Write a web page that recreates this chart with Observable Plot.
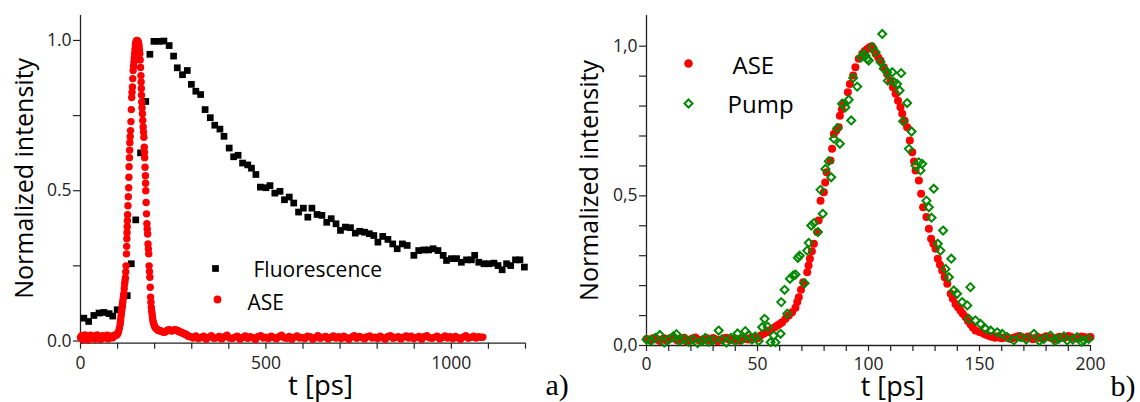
<!DOCTYPE html>
<html><head><meta charset="utf-8">
<script src="https://cdn.jsdelivr.net/npm/d3@7"></script>
<script src="https://cdn.jsdelivr.net/npm/@observablehq/plot@0.6"></script>
<style>
body{margin:0;background:#fff;}
#wrap{display:flex;width:1140px;height:402px;overflow:visible;}
#wrap svg{display:block;overflow:visible;}
</style></head><body><div id="wrap"></div>
<script>
// ---------- Panel a data ----------
const fluorescence = [[9,0.076],[22,0.065],[36,0.085],[50,0.093],[63,0.095],[77,0.091],[87,0.083],[99,0.104],[113,0.121],[126,0.151],[137,0.257],[149,0.403],[162,0.626],[176,0.797],[187,0.954],[198,0.997],[212,0.997],[225,0.998],[239,0.983],[251,0.948],[261,0.909],[275,0.886],[288,0.900],[299,0.854],[311,0.831],[324,0.820],[336,0.770],[350,0.743],[362,0.718],[376,0.705],[387,0.681],[401,0.642],[413,0.613],[425,0.618],[437,0.592],[451,0.586],[461,0.575],[473,0.554],[485,0.512],[500,0.510],[511,0.517],[524,0.492],[538,0.498],[550,0.470],[563,0.479],[575,0.459],[588,0.429],[601,0.442],[613,0.412],[624,0.442],[638,0.421],[651,0.418],[664,0.395],[676,0.407],[689,0.390],[701,0.368],[714,0.379],[728,0.377],[741,0.359],[753,0.365],[766,0.362],[779,0.357],[791,0.351],[802,0.329],[815,0.348],[829,0.338],[842,0.323],[854,0.307],[868,0.323],[881,0.318],[899,0.285],[912,0.301],[926,0.303],[939,0.303],[951,0.307],[964,0.301],[978,0.285],[987,0.268],[1000,0.274],[1014,0.274],[1027,0.262],[1041,0.270],[1054,0.270],[1063,0.285],[1074,0.262],[1088,0.257],[1101,0.257],[1115,0.259],[1126,0.251],[1137,0.237],[1149,0.257],[1160,0.251],[1173,0.270],[1185,0.270],[1197,0.246]];

const aseA = [[0,0.012],[3,0.018],[6,0.004],[9,0.015],[12,0.020],[15,0.011],[18,0.016],[21,0.003],[24,0.014],[27,0.019],[30,0.010],[33,0.017],[36,0.012],[39,0.006],[42,0.015],[45,0.020],[48,0.011],[51,0.016],[54,0.005],[57,0.013],[60,0.018],[63,0.010],[66,0.015],[69,0.012],[72,0.019],[75,0.007],[78,0.014],[81,0.013],[84,0.017],[87,0.011],[90,0.016],[93,0.020],[96,0.018],[99,0.022],
[101,0.026],[103,0.033],[105,0.043],[107,0.056],[108,0.068],[109,0.080],[110,0.090],[111,0.100],[112,0.110],[113,0.120],[114,0.130],[115,0.140],[116,0.150],[117,0.158],[118,0.175],[119,0.190],[120,0.200],[121,0.210],[122,0.230],[123,0.250],[124,0.290],[124.5,0.315],[125,0.340],[125.5,0.360],[126,0.380],[126.5,0.400],[127,0.420],[128,0.450],[129,0.480],[130,0.510],[130.5,0.545],[131,0.580],[132,0.610],[132.5,0.635],[133,0.660],[134,0.680],[135,0.700],[136,0.730],[137,0.770],[138,0.810],[139,0.828],[140,0.845],[141,0.873],[142,0.900],[143,0.914],[144,0.928],[145,0.942],[146,0.956],[147,0.970],[148,0.983],[149,0.990],[150,0.995],[151,0.998],[152,1.000],[153,0.999],[154,0.998],[155,0.996],[156,0.993],[157,0.987],[158,0.980],[159,0.968],[160,0.956],[161,0.935],[162,0.910],[163,0.883],[163.5,0.862],[164,0.840],[164.5,0.818],[165,0.795],[166,0.775],[167,0.756],[168,0.734],[169,0.712],[170,0.695],[171,0.678],[172,0.645],[172.5,0.628],[173,0.610],[174,0.578],[175,0.550],[175.5,0.525],[176,0.500],[177,0.461],[178,0.423],[179,0.390],[180,0.373],[181,0.356],[182,0.323],[183,0.306],[184,0.290],[185,0.250],[186,0.231],[187,0.212],[188,0.179],[189,0.146],[190,0.129],[191,0.112],[192,0.100],[193,0.090],[194,0.080],[195,0.070],[196.5,0.062],[198,0.055],[199.5,0.050],[201,0.046],[203,0.043],[205,0.040],[207,0.038],[209,0.036],[211,0.035],[213,0.035],[215,0.034],[217,0.033],[219,0.032],[221,0.031],[223,0.030],[225,0.030],[227,0.030],[229,0.031],[231,0.033],[233,0.034],[235,0.036],[237,0.037],[239,0.037],[241,0.036],[243,0.035],[245,0.034],[247,0.034],[249,0.035],[251,0.036],[253,0.037],[255,0.037],[257,0.036],[259,0.036],[261,0.035],[263,0.034],[265,0.032],[267,0.031],[269,0.030],[271,0.029],[273,0.028],[275,0.027],[277,0.026],[279,0.025],[281,0.024],[283,0.022],[285,0.021],[287,0.020],[289,0.018],[291,0.016],[293,0.015],
[297,0.014],[304,0.010],[311,0.017],[318,0.008],[325,0.012],[332,0.016],[339,0.006],[346,0.013],[353,0.018],[360,0.009],[367,0.011],[374,0.015],[381,0.007],[388,0.014],[395,0.019],[402,0.010],[409,0.008],[416,0.013],[423,0.016],[430,0.006],[437,0.012],[444,0.017],[451,0.009],[458,0.014],[465,0.011],[472,0.005],[479,0.015],[486,0.018],[493,0.010],[500,0.013],[507,0.008],[514,0.016],[521,0.012],[528,0.007],[535,0.014],[542,0.019],[549,0.011],[556,0.009],[563,0.015],[570,0.006],[577,0.013],[584,0.017],[591,0.010],[598,0.012],[605,0.008],[612,0.016],[619,0.014],[626,0.006],[633,0.011],[640,0.018],[647,0.009],[654,0.013],[661,0.015],[668,0.007],[675,0.012],[682,0.017],[689,0.010],[696,0.014],[703,0.008],[710,0.016],[717,0.011],[724,0.006],[731,0.013],[738,0.018],[745,0.009],[752,0.015],[759,0.012],[766,0.007],[773,0.014],[780,0.017],[787,0.010],[794,0.013],[801,0.008],[808,0.016],[815,0.011],[822,0.006],[829,0.015],[836,0.018],[843,0.009],[850,0.012],[857,0.014],[864,0.007],[871,0.013],[878,0.017],[885,0.010],[892,0.016],[899,0.008],[906,0.012],[913,0.015],[920,0.006],[927,0.014],[934,0.018],[941,0.011],[948,0.009],[955,0.013],[962,0.016],[969,0.007],[976,0.012],[983,0.017],[990,0.010],[997,0.014],[1004,0.008],[1011,0.015],[1018,0.011],[1025,0.006],[1032,0.013],[1039,0.018],[1046,0.009],[1053,0.012],[1060,0.016],[1067,0.010],[1074,0.014],[1081,0.012],[1085,0.013]];

const aXTicks = [0,100,200,300,400,500,600,700,800,900,1000,1100,1200];
const aXLabels = [0,500,1000];
const aYTicks = [0,0.25,0.5,0.75,1.0];
const aYLabels = [0,0.5,1.0];

// ---------- Panel b data ----------
const aseB = [[0,0.022],[1,0.02],[2,0.018],[3,0.024],[4,0.026],[5,0.019],[6,0.015],[7,0.021],[8,0.024],[9,0.017],[10,0.02],[11,0.025],[12,0.028],[13,0.022],[14,0.017],[15,0.02],[16,0.023],[17,0.026],[18,0.013],[19,0.018],[20,0.021],[21,0.024],[22,0.027],[23,0.02],[24,0.016],[25,0.019],[26,0.022],[27,0.025],[28,0.019],[29,0.016],[30,0.025],[31,0.021],[32,0.014],[33,0.018],[34,0.021],[35,0.024],[36,0.026],[37,0.02],[38,0.018],[39,0.022],[40,0.023],[41,0.019],[42,0.016],[43,0.021],[44,0.025],[45,0.022],[46,0.02],[47,0.026],[48,0.027],[49,0.024],[50,0.024],
[51.4,0.033],[52.8,0.039],[54.4,0.044],[55.5,0.050],[56.6,0.056],[57.8,0.061],[58.9,0.067],[60,0.072],[61.1,0.078],[62.6,0.089],[64.1,0.100],[65.6,0.111],[67.1,0.126],[67.9,0.145],[68.6,0.161],[69.6,0.186],[70.6,0.211],[72.4,0.245],[73,0.267],[73.6,0.290],[74.5,0.315],[75.4,0.340],[76.9,0.379],[77.5,0.418],[78.4,0.484],[79.9,0.512],[80.5,0.545],[81.1,0.579],[82.9,0.618],[83.6,0.657],[84.4,0.707],[85.5,0.718],[86.6,0.729],[87.1,0.768],[88,0.789],[88.9,0.810],[90.7,0.846],[91.6,0.874],[93.1,0.902],[94.1,0.930],[95.6,0.958],[97.2,0.975],[98.3,0.984],[99.4,0.991],[100.6,0.997],[101.5,1.000],[102.4,0.988],[103.2,0.975],[104.3,0.963],[105.4,0.952],[106.9,0.930],[108.4,0.907],[109.9,0.885],[111,0.863],[112.2,0.841],[113.3,0.818],[114.4,0.796],[115.2,0.774],[116.3,0.751],[117.4,0.729],[118.6,0.685],[119.7,0.646],[120.5,0.615],[121.2,0.585],[122.7,0.551],[123.7,0.507],[124.6,0.462],[126.1,0.429],[127.2,0.390],[128.2,0.357],[129.2,0.340],[130.2,0.323],[131.2,0.290],[132.2,0.270],[133.2,0.251],[134.3,0.228],[135.5,0.206],[137,0.173],[138,0.156],[139.2,0.139],[140.3,0.128],[141.4,0.117],[142.5,0.106],[143.7,0.095],[144.8,0.082],[146,0.070],[147,0.060],[148.2,0.050],[150,0.045],[151.9,0.039],
[153,0.036],[154,0.033],[155,0.030],[156,0.028],[157,0.026],[158,0.031],[159,0.027],[160,0.024],[161,0.026],[162,0.029],[163,0.025],[164,0.022],[165,0.025],[166,0.027],[167,0.03],[168,0.032],[169,0.028],[170,0.025],[171,0.027],[172,0.03],[173,0.025],[174,0.021],[175,0.024],[176,0.028],[177,0.026],[178,0.024],[179,0.027],[180,0.031],[181,0.028],[182,0.026],[183,0.024],[184,0.022],[185,0.026],[186,0.029],[187,0.027],[188,0.025],[189,0.028],[190,0.032],[191,0.029],[192,0.027],[193,0.025],[194,0.023],[195,0.027],[196,0.03],[197,0.028],[198,0.026],[199,0.027],[200,0.028]];

const pump = [[0,0.02],[2,0.015],[4,0.025],[6,0.035],[8,0.01],[10,0.02],[12,0.03],[13.5,0.038],[15,0.015],[17,0.022],[19,0.012],[21,0.02],[23,0.008],[25,0.015],[26.5,0.025],[28,0.012],[30,0.018],[32.5,0.05],[34,0.02],[36,0.01],[38,0.025],[40,0.015],[41,0.04],[43,0.02],[44.5,0.048],[46,0.035],[47.5,0.02],[49,0.03],[50.5,0.015],
[52.1,0.061],[53.2,0.089],[54.6,0.063],[55.9,0.011],[57.3,0.033],[58.1,0.011],[60.4,0.039],[60.7,0.145],[62.2,0.186],[63.4,0.106],[64.6,0.223],[66.1,0.234],[67.1,0.237],[68.2,0.293],[69,0.30],[71.2,0.208],[72.4,0.317],[73.1,0.343],[74.2,0.401],[75.4,0.409],[77.2,0.379],[78.4,0.52],[79.4,0.44],[80.6,0.59],[82.1,0.616],[83.2,0.562],[84.4,0.691],[85.9,0.726],[87.1,0.674],[88.1,0.808],[89.6,0.796],[91.1,0.821],[92.2,0.752],[93.1,0.894],[94.9,0.865],[96.7,0.963],[97.9,0.975],[98.6,0.969],[99.4,0.958],[100.1,0.952],[101.7,0.997],[103.2,0.98],[105.4,0.947],[106.2,1.041],[106.9,0.925],[108.4,0.913],[108.7,0.885],[110.7,0.913],[111.5,0.88],[112.9,0.874],[114,0.852],[114.7,0.91],[115.6,0.749],[117.4,0.81],[118.2,0.657],[119.4,0.715],[121.2,0.601],[122.7,0.612],[123.4,0.585],[124.2,0.607],[126.1,0.484],[127.2,0.462],[128.4,0.427],[129.4,0.524],[131.2,0.34],[132.4,0.317],[133.6,0.384],[134.7,0.256],[136.2,0.228],[137.3,0.29],[138.4,0.184],[139.9,0.173],[142.2,0.145],[144.5,0.134],[145.2,0.089],[145.9,0.195],[148.2,0.084],[150.5,0.072],[152.7,0.056],[155,0.05],[158,0.044],[160.2,0.039],[162.5,0.028],[165.5,0.017],[168.5,0.028],[171,0.02],[174.5,0.039],[177,0.015],[179,0.022],[182,0.033],[184,0.015],[185.7,0.022],[188,0.03],[189.5,0.017],[192,0.02],[194,0.028],[196,0.012],[197,0.017],[199.2,0.022]];

const bXTicks = [0,10,20,30,40,50,60,70,80,90,100,110,120,130,140,150,160,170,180,190,200];
const bXLabels = [0,50,100,150,200];
const bYTicks = [0,0.1,0.2,0.3,0.4,0.5,0.6,0.7,0.8,0.9,1.0];
const bYLabels = [0,0.5,1.0];

const FONT = "'Open Sans', 'DejaVu Sans', sans-serif";
const SERIF = "'Liberation Serif', 'DejaVu Serif', serif";
const RED = "#ff0000";
const GREEN = "#008a00";
const AXIS = "#222";
const TICKFS = 17.5;

const near = (arr, d) => arr.some(v => Math.abs(v - d) < 1e-9);

// ---------- Panel a ----------
const aX = [0, 1200], aY = [-0.0073, 1.083];
const plotA = Plot.plot({
  width: 570, height: 402,
  marginLeft: 80, marginRight: 45, marginTop: 15, marginBottom: 59.3,
  style: {fontFamily: FONT, fontSize: TICKFS + "px", color: AXIS, background: "transparent", overflow: "visible"},
  x: {domain: aX, axis: null},
  y: {domain: aY, axis: null},
  marks: [
    Plot.axisX({ticks: aXTicks, tickFormat: d => near(aXLabels, d) ? String(d) : "", tickSize: 6, tickPadding: 7, label: null, strokeWidth: 1.2, fontSize: TICKFS}),
    Plot.axisY({ticks: aYTicks, tickFormat: d => near(aYLabels, d) ? d.toFixed(1) : "", tickSize: 7, tickPadding: 2, label: null, strokeWidth: 1.2, fontSize: TICKFS}),
    Plot.ruleX([aX[0]], {stroke: AXIS, strokeWidth: 1.3}),
    Plot.ruleY([aY[0]], {stroke: AXIS, strokeWidth: 1.3}),
    Plot.dot(fluorescence, {x: d => d[0], y: d => d[1], symbol: "square", r: 3.8, fill: "black", stroke: "none"}),
    Plot.dot(aseA, {x: d => d[0], y: d => d[1], r: 3.7, fill: RED, stroke: "none"}),
    // legend
    Plot.dot([0], {frameAnchor: "top-left", dx: 135, dy: 253, symbol: "square", r: 3.8, fill: "black", stroke: "none"}),
    Plot.text(["Fluorescence"], {frameAnchor: "top-left", dx: 173, dy: 255, textAnchor: "start", lineAnchor: "middle", fontSize: 21, fill: "black"}),
    Plot.dot([0], {frameAnchor: "top-left", dx: 137, dy: 284, r: 3.9, fill: RED, stroke: "none"}),
    Plot.text(["ASE"], {frameAnchor: "top-left", dx: 167, dy: 288, textAnchor: "start", lineAnchor: "middle", fontSize: 21, fill: "black"}),
    // axis titles
    Plot.text(["t [ps]"], {frameAnchor: "bottom", dx: 17.5, dy: 43, textAnchor: "middle", lineAnchor: "middle", fontSize: 27.5, fill: "black"}),
    Plot.text(["Normalized intensity"], {frameAnchor: "left", rotate: -90, dx: -56, dy: -1, textAnchor: "middle", lineAnchor: "middle", fontSize: 25, fill: "black"}),
    Plot.text(["a)"], {frameAnchor: "bottom-right", dx: 20, dy: 42, textAnchor: "start", lineAnchor: "middle", fontSize: 30, fontFamily: SERIF, fill: "black"})
  ]
});

// ---------- Panel b ----------
const bX = [0, 200], bY = [0, 1.1026];
const commaFmt = d => d.toFixed(1).replace(".", ",");
const plotB = Plot.plot({
  width: 570, height: 402,
  marginLeft: 76, marginRight: 50, marginTop: 15, marginBottom: 57,
  style: {fontFamily: FONT, fontSize: TICKFS + "px", color: AXIS, background: "transparent", overflow: "visible"},
  x: {domain: bX, axis: null},
  y: {domain: bY, axis: null},
  marks: [
    Plot.axisX({ticks: bXTicks, tickFormat: d => near(bXLabels, d) ? String(d) : "", tickSize: 6, tickPadding: 6, label: null, strokeWidth: 1.2, fontSize: TICKFS}),
    Plot.axisY({ticks: bYTicks, tickFormat: d => near(bYLabels, d) ? commaFmt(d) : "", tickSize: 7, tickPadding: 2, label: null, strokeWidth: 1.2, fontSize: TICKFS}),
    Plot.ruleX([bX[0]], {stroke: AXIS, strokeWidth: 1.3}),
    Plot.ruleY([bY[0]], {stroke: AXIS, strokeWidth: 1.3}),
    Plot.dot(aseB, {x: d => d[0], y: d => d[1], r: 4, fill: RED, stroke: "none"}),
    Plot.dot(pump, {x: d => d[0], y: d => d[1], symbol: "diamond2", r: 3.6, fill: "none", stroke: GREEN, strokeWidth: 2}),
    // legend
    Plot.dot([0], {frameAnchor: "top-left", dx: 42, dy: 48, r: 4.3, fill: RED, stroke: "none"}),
    Plot.text(["ASE"], {frameAnchor: "top-left", dx: 86, dy: 51, textAnchor: "start", lineAnchor: "middle", fontSize: 24, fill: "black"}),
    Plot.dot([0], {frameAnchor: "top-left", dx: 42, dy: 88, symbol: "diamond2", r: 3.6, fill: "none", stroke: GREEN, strokeWidth: 2}),
    Plot.text(["Pump"], {frameAnchor: "top-left", dx: 81, dy: 90, textAnchor: "start", lineAnchor: "middle", fontSize: 24, fill: "black"}),
    // axis titles
    Plot.text(["t [ps]"], {frameAnchor: "bottom", dx: 24, dy: 42, textAnchor: "middle", lineAnchor: "middle", fontSize: 27, fill: "black"}),
    Plot.text(["Normalized intensity"], {frameAnchor: "left", rotate: -90, dx: -57, textAnchor: "middle", lineAnchor: "middle", fontSize: 25, fill: "black"}),
    Plot.text(["b)"], {frameAnchor: "bottom-right", dx: 20, dy: 41, textAnchor: "start", lineAnchor: "middle", fontSize: 30, fontFamily: SERIF, fill: "black"})
  ]
});

const wrap = document.getElementById("wrap");
wrap.appendChild(plotA);
wrap.appendChild(plotB);
</script>
</body></html>
